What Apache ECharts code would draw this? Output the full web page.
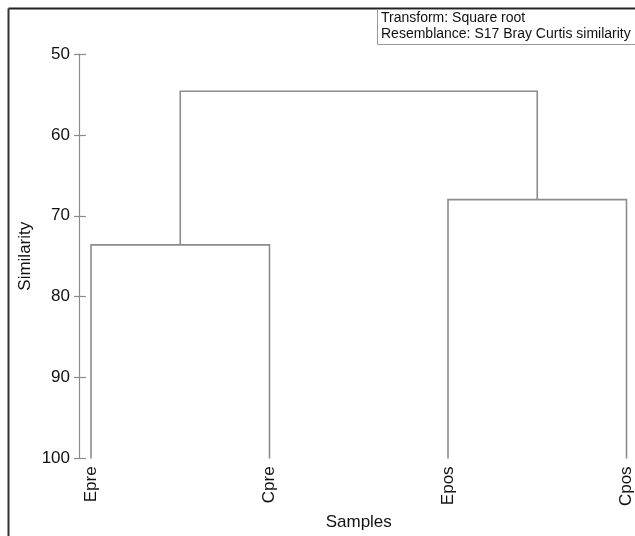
<!DOCTYPE html>
<html>
<head>
<meta charset="utf-8">
<script src="https://cdn.jsdelivr.net/npm/echarts@6/dist/echarts.min.js"></script>
<style>
  html, body { margin: 0; padding: 0; background: #fff; }
  #chart { width: 635px; height: 536px; }
</style>
</head>
<body>
<div id="chart"></div>
<script>
// Samples (leaves, left to right)
const samples = ['Epre', 'Cpre', 'Epos', 'Cpos'];
// Merge steps: node ids below samples.length are samples, higher ids are earlier merges
const mergeLeft = [0, 2, 4];
const mergeRight = [1, 3, 5];
const mergeSimilarity = [73.6, 68.0, 54.6];
// Similarity axis ticks
const simTicks = [50, 60, 70, 80, 90, 100];

const infoLines = ['Transform: Square root', 'Resemblance: S17 Bray Curtis similarity'];

// node positions: x = leaf index (or midpoint of children), y = similarity
const nodeX = samples.map((_, i) => i);
const nodeY = samples.map(() => 100);
const links = [];
mergeSimilarity.forEach((s, k) => {
  const a = mergeLeft[k], b = mergeRight[k];
  links.push([nodeX[a], nodeY[a], nodeX[b], nodeY[b], s]);
  nodeX.push((nodeX[a] + nodeX[b]) / 2);
  nodeY.push(s);
});

const FONT = '"Liberation Sans", Arial, sans-serif';
const LINE = '#8c8c8c';
const FS = 17;

const chart = echarts.init(document.getElementById('chart'), null, { renderer: 'canvas' });
chart.setOption({
  animation: false,
  backgroundColor: '#fff',
  grid: { left: 91, right: 6, top: 54, bottom: 77 },
  xAxis: {
    type: 'value', min: 0, max: samples.length - 1, interval: 1,
    name: 'Samples', nameLocation: 'middle', nameGap: 54,
    nameTextStyle: { fontFamily: FONT, fontSize: FS, color: '#111' },
    axisLine: { show: false, onZero: false }, axisTick: { show: false }, splitLine: { show: false },
    axisLabel: {
      rotate: 90, margin: 8, fontFamily: FONT, fontSize: FS, color: '#111',
      formatter: v => samples[v] || ''
    }
  },
  yAxis: [{
    type: 'value', inverse: true, min: simTicks[0], max: simTicks[simTicks.length - 1], interval: 10,
    position: 'left', offset: 12,
    name: 'Similarity', nameLocation: 'middle', nameRotate: 90, nameGap: 45, nameMoveOverlap: false,
    nameTextStyle: { fontFamily: FONT, fontSize: FS, color: '#111' },
    axisLine: { show: true, onZero: false, lineStyle: { color: LINE, width: 1.2 } },
    axisTick: { show: true, length: 5, lineStyle: { color: LINE, width: 1.2 } },
    axisLabel: { margin: 9, fontFamily: FONT, fontSize: FS, color: '#111' },
    splitLine: { show: false }
  }, {
    type: 'value', inverse: true, min: simTicks[0], max: simTicks[simTicks.length - 1], interval: 10,
    position: 'left', offset: 12,
    axisLine: { show: false, onZero: false },
    axisTick: { show: true, inside: true, length: 7, lineStyle: { color: LINE, width: 1.2 } },
    axisLabel: { show: false },
    splitLine: { show: false }
  }],
  series: [{
    type: 'custom',
    coordinateSystem: 'cartesian2d',
    encode: { x: [0, 2], y: [1, 3, 4] },
    data: links,
    renderItem: (params, api) => {
      const x1 = api.value(0), y1 = api.value(1), x2 = api.value(2), y2 = api.value(3), m = api.value(4);
      return {
        type: 'polyline',
        shape: { points: [api.coord([x1, y1]), api.coord([x1, m]), api.coord([x2, m]), api.coord([x2, y2])] },
        style: { stroke: LINE, lineWidth: 1.6, fill: null }
      };
    }
  }],
  graphic: [
    // outer frame edges
    { type: 'line', shape: { x1: 8.5, y1: 8.5, x2: 635, y2: 8.5 }, style: { stroke: '#222', lineWidth: 2 } },
    { type: 'line', shape: { x1: 8.5, y1: 8.5, x2: 8.5, y2: 536 }, style: { stroke: '#333', lineWidth: 2 } },
    // info box
    { type: 'rect', shape: { x: 377.5, y: 9.5, width: 260, height: 35 }, style: { fill: '#fff', stroke: '#999', lineWidth: 1 } },
    { type: 'text', left: 381, top: 11, style: { text: infoLines[0], fontFamily: FONT, fontSize: 14, fill: '#111' } },
    { type: 'text', left: 381, top: 27, style: { text: infoLines[1], fontFamily: FONT, fontSize: 14, fill: '#111' } }
  ]
});
</script>
</body>
</html>
